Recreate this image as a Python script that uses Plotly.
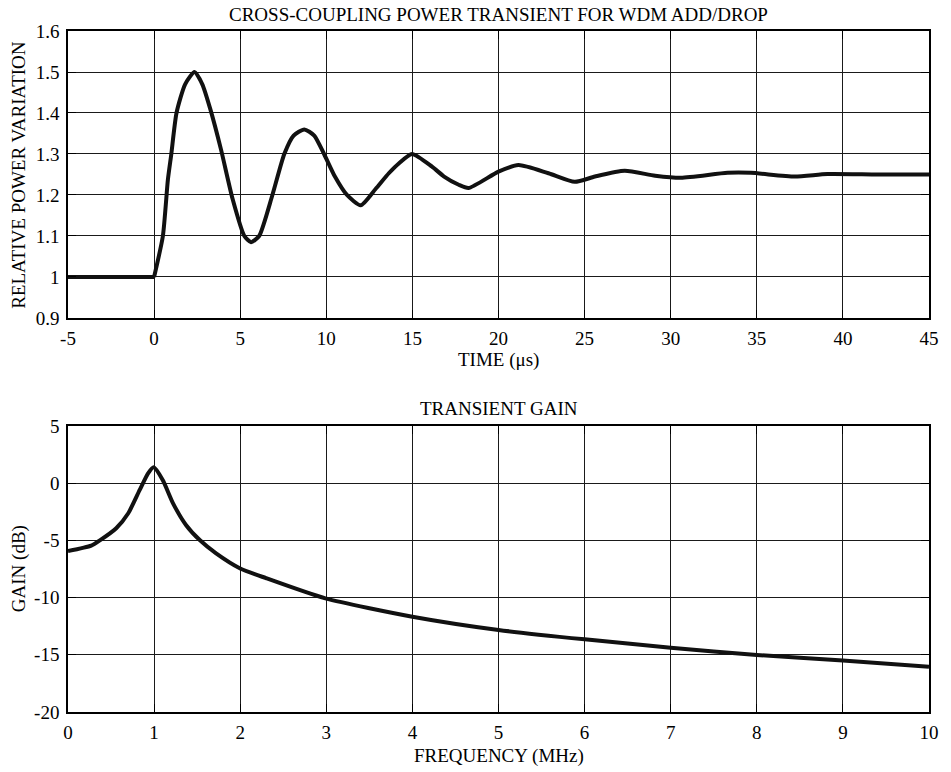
import plotly.graph_objects as go
from plotly.subplots import make_subplots

# Top panel: relative power transient (flat part before the step, then the ringing)
time_pre = [-5, 0]
power_pre = [1.0, 1.0]
time_us = [0, 0.51, 0.80, 1.0, 1.3, 1.8, 2.35, 2.8, 3.26, 3.89, 4.56, 5.24, 5.63, 6.1, 6.87,
           7.56, 8.1, 8.72, 9.3, 9.87, 10.5, 11.2, 12.0, 12.86, 13.63, 14.21, 14.98, 16.14, 16.84,
           17.69, 18.26, 20.0, 21.16, 22.9, 24.43, 25.6, 27.33, 29.1, 30.6, 33.3, 34.65, 37.2,
           39.1, 42.0, 45.0]
rel_power = [1.0, 1.1, 1.237, 1.3, 1.4, 1.47, 1.5, 1.47, 1.41, 1.31, 1.19, 1.1, 1.085, 1.1, 1.2,
             1.3, 1.345, 1.36, 1.345, 1.3, 1.245, 1.2, 1.175, 1.2146, 1.253, 1.277, 1.3, 1.269, 1.245,
             1.225, 1.217, 1.257, 1.273, 1.253, 1.232, 1.245, 1.259, 1.247, 1.242, 1.254, 1.254, 1.245,
             1.251, 1.25, 1.25]

# Bottom panel: transient gain
freq_mhz = [0.0, 0.27, 0.37, 0.56, 0.70, 0.833, 0.93, 0.995, 1.10, 1.22, 1.37, 1.53, 1.72, 2.0,
            2.3, 2.99, 4.0, 5.0, 6.0, 7.0, 8.0, 9.0, 10.0]
gain_db = [-5.93, -5.46, -5.0, -3.94, -2.63, -0.59, 0.86, 1.39, 0.28, -1.76, -3.65, -4.97, -6.13, -7.45,
           -8.3, -10.07, -11.67, -12.83, -13.65, -14.38, -15.02, -15.5, -16.04]

top_yticks = [0.9, 1.0, 1.1, 1.2, 1.3, 1.4, 1.5, 1.6]
top_yticktext = ["0.9", "1", "1.1", "1.2", "1.3", "1.4", "1.5", "1.6"]
top_xticks = [-5, 0, 5, 10, 15, 20, 25, 30, 35, 40, 45]
top_xticktext = ["-5", "0", "5", "10", "15", "20", "25", "30", "35", "40", "45"]
bot_xticks = [0, 1, 2, 3, 4, 5, 6, 7, 8, 9, 10]
bot_yticks = [-20, -15, -10, -5, 0, 5]
bot_yticktext = ["-20", "-15", "-10", "-5", "0", "5"]

FONT = "Liberation Serif, Times New Roman, serif"
FS = 19

line_style = dict(color="#111111", width=4)

fig = make_subplots(rows=2, cols=1)
fig.add_trace(go.Scatter(x=time_pre, y=power_pre, mode="lines", line=line_style), row=1, col=1)
fig.add_trace(go.Scatter(x=time_us, y=rel_power, mode="lines",
                         line=dict(**line_style, shape="spline", smoothing=0.6)),
              row=1, col=1)
fig.add_trace(go.Scatter(x=freq_mhz, y=gain_db, mode="lines",
                         line=dict(**line_style, shape="spline", smoothing=0.6)),
              row=2, col=1)

axis_common = dict(showline=True, linecolor="black", linewidth=1.5, mirror="ticks",
                   ticks="inside", ticklen=8, tickcolor="black", tickwidth=1,
                   showgrid=True, gridcolor="#1a1a1a", gridwidth=1, zeroline=False,
                   tickfont=dict(family=FONT, size=FS, color="black"))

fig.update_xaxes(**axis_common)
fig.update_yaxes(**axis_common)

fig.update_layout(
    width=951, height=772,
    margin=dict(l=68, r=19, t=31, b=60),
    paper_bgcolor="white", plot_bgcolor="white",
    showlegend=False,
    font=dict(family=FONT, size=FS, color="black"),
    xaxis=dict(domain=[0, 1], range=[-5, 45], tickvals=top_xticks, ticktext=top_xticktext,
               ticklabelstandoff=2),
    yaxis=dict(domain=[0.5786, 1], range=[0.9, 1.6], tickvals=top_yticks, ticktext=top_yticktext,
               ticklabelstandoff=3),
    xaxis2=dict(domain=[0, 1], range=[0, 10], tickvals=bot_xticks, ticklabelstandoff=2),
    yaxis2=dict(domain=[0, 0.42], range=[-20, 5], tickvals=bot_yticks, ticktext=bot_yticktext,
                ticklabelstandoff=3),
)

ann = dict(xref="paper", yref="paper", showarrow=False, font=dict(family=FONT, size=FS, color="black"))
fig.add_annotation(text="CROSS-COUPLING POWER TRANSIENT FOR WDM ADD/DROP", x=0.5, y=1.0249,
                   xanchor="center", yanchor="middle", **ann)
fig.add_annotation(text="TIME (μs)", x=0.5, y=0.5169, xanchor="center", yanchor="middle", **ann)
fig.add_annotation(text="RELATIVE POWER VARIATION", x=-0.0567, y=0.789, textangle=-90,
                   xanchor="center", yanchor="middle", **ann)
fig.add_annotation(text="TRANSIENT GAIN", x=0.5, y=0.4464, xanchor="center", yanchor="middle", **ann)
fig.add_annotation(text="FREQUENCY (MHz)", x=0.5, y=-0.0646, xanchor="center", yanchor="middle", **ann)
fig.add_annotation(text="GAIN (dB)", x=-0.0567, y=0.21, textangle=-90,
                   xanchor="center", yanchor="middle", **ann)

# remove the default 8px page margin so the figure fills the window exactly
fig.write_html("out.html", config={"displayModeBar": False},
               post_script="document.body.style.margin='0px';")
